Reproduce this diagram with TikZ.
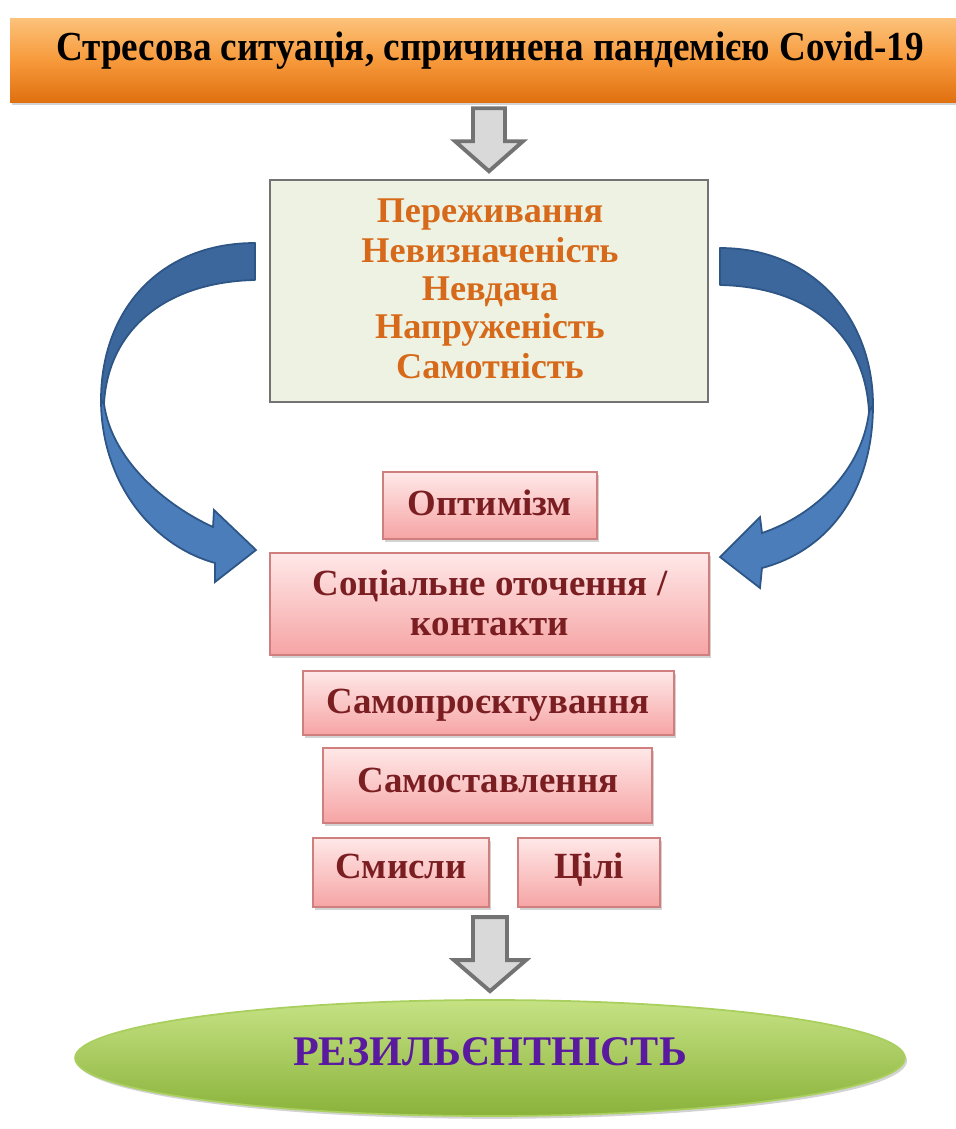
\documentclass[tikz,border=0pt]{standalone}
\usepackage{fontspec}
\setmainfont{Liberation Serif}
\usetikzlibrary{shadows,fit,shapes.geometric}
\definecolor{orTop}{HTML}{FCC27A}
\definecolor{orMid}{HTML}{F79A3C}
\definecolor{orBot}{HTML}{E0700F}
\definecolor{grFill}{HTML}{EEF2E3}
\definecolor{grText}{HTML}{D66A1A}
\definecolor{pkTop}{HTML}{FFE8E8}
\definecolor{pkBot}{HTML}{F6A4A4}
\definecolor{pkEdge}{HTML}{CF7F7D}
\definecolor{pkText}{HTML}{7A1E22}
\definecolor{blDark}{HTML}{3C679C}
\definecolor{blLight}{HTML}{4A7DBA}
\definecolor{blEdge}{HTML}{2D5585}
\definecolor{elTop}{HTML}{C6E284}
\definecolor{elBot}{HTML}{8AB23A}
\definecolor{elEdge}{HTML}{A9CF5E}
\definecolor{elText}{HTML}{5A1AA0}
\begin{document}
\begin{tikzpicture}[x={(0.02cm,0)},y={(0,-0.02cm)},
  shadowed/.style={drop shadow={opacity=0.35,shadow xshift=1.2pt,shadow yshift=-1.6pt}},
  topbox/.style={inner sep=0pt,top color=orTop,bottom color=orBot,middle color=orMid,shadowed},
  midbox/.style={inner sep=0pt,fill=grFill,draw=black!55,line width=0.9pt},
  pinkbox/.style={inner sep=0pt,top color=pkTop,bottom color=pkBot,draw=pkEdge,line width=0.8pt,shadowed},
  toptext/.style={anchor=base,inner sep=0pt,font=\bfseries\fontsize{23.5}{26}\selectfont,text=black},
  midtext/.style={anchor=base,inner sep=0pt,font=\bfseries\fontsize{20.6}{23}\selectfont,text=grText},
  pinktext/.style={anchor=base,inner sep=0pt,font=\bfseries\fontsize{21}{24}\selectfont,text=pkText},
  endtext/.style={anchor=base,inner sep=0pt,font=\bfseries\fontsize{24}{27}\selectfont,text=elText},
  grayarrow/.style={fill=black!15,draw=black!55,line width=2.2pt,line join=miter},
  bluedark/.style={fill=blDark,draw=blEdge,line width=1pt,line join=round},
  bluelight/.style={fill=blLight,draw=blEdge,line width=1pt,line join=miter},
]
\useasboundingbox (0,0) rectangle (956,1129);

% top bar
\node[topbox,fit={(10,18) (956,102)}] (top) {};
\node[toptext] (toplabel) at (490,60) {\scalebox{0.9}[1]{Стресова ситуація, спричинена пандемією Covid-19}};

% middle box
\node[midbox,fit={(270,180) (708,402)}] (mid) {};
\node[midtext] (m1) at (490,222) {Переживання};
\node[midtext] (m2) at (490,262) {Невизначеність};
\node[midtext] (m3) at (490,300) {Невдача};
\node[midtext] (m4) at (490,338) {Напруженість};
\node[midtext] (m5) at (490,378) {Самотність};

% pink boxes
\node[pinkbox,fit={(383,472) (597,539)}] (opt) {};
\node[pinktext] (optl) at (490,515) {Оптимізм};
\node[pinkbox,fit={(270,553) (709,655)}] (soc) {};
\node[pinktext] (socl1) at (490,595) {Соціальне оточення /};
\node[pinktext] (socl2) at (490,635) {контакти};
\node[pinkbox,fit={(303,671) (674,735)}] (proj) {};
\node[pinktext] (projl) at (488,713) {Самопроєктування};
\node[pinkbox,fit={(323,748) (652,823)}] (stav) {};
\node[pinktext] (stavl) at (488,792) {Самоставлення};
\node[pinkbox,fit={(313,838) (489,907)}] (sens) {};
\node[pinktext] (sensl) at (401,878) {Смисли};
\node[pinkbox,fit={(518,838) (660,907)}] (goal) {};
\node[pinktext] (goall) at (589,878) {Цілі};

% ellipse
\node[ellipse,inner sep=0pt,minimum width=16.6cm,minimum height=2.32cm,
      top color=elTop,bottom color=elBot,draw=elEdge,line width=1pt,shadowed] (res) at (490,1058) {};
\node[endtext] (resl) at (490,1065) {РЕЗИЛЬЄНТНІСТЬ};

% gray arrows
\begin{scope}[shift={(mid.north)}]
  \draw[grayarrow] (-16,-71) -- (16,-71) -- (16,-38) -- (34,-38) -- (0,-8) -- (-34,-38) -- (-16,-38) -- cycle;
\end{scope}
\begin{scope}[shift={(res.north)}]
  \draw[grayarrow] (-17,-82) -- (17,-82) -- (17,-39) -- (36,-39) -- (0,-8) -- (-36,-39) -- (-17,-39) -- cycle;
\end{scope}

% left blue curved arrow
\draw[bluelight] (101,400) .. controls (101,480) and (150,545) .. (215,563)
  -- (215,582) -- (256,550) -- (214,510) -- (213,527)
  .. controls (165,505) and (112,460) .. (104,404) -- cycle;
\draw[bluedark] (255,243) .. controls (160,243) and (101,310) .. (101,400)
  -- (104,404) .. controls (108,330) and (165,282) .. (255,280) -- cycle;

% right blue curved arrow
\draw[bluelight] (873,405) .. controls (873,490) and (830,550) .. (762,568)
  -- (760,588) -- (720,557) -- (760,517) -- (762,533)
  .. controls (815,515) and (862,470) .. (869,412) -- cycle;
\draw[bluedark] (720,248) .. controls (815,248) and (873,320) .. (873,405)
  -- (869,412) .. controls (865,335) and (810,287) .. (720,285) -- cycle;
\end{tikzpicture}
\end{document}
